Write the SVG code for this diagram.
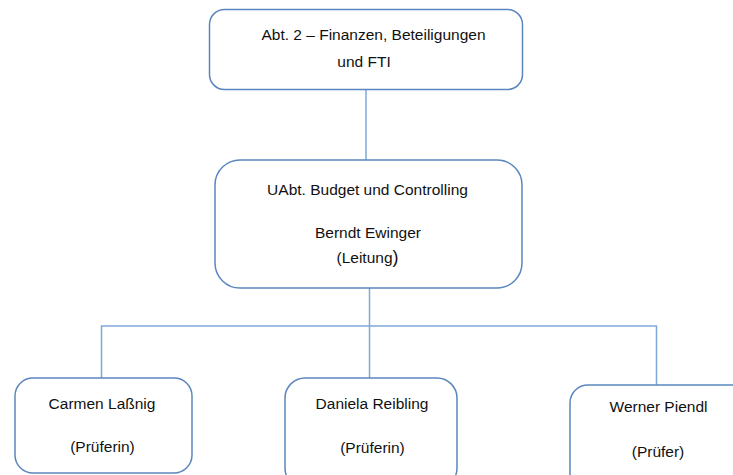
<svg xmlns="http://www.w3.org/2000/svg" width="733" height="475" viewBox="0 0 733 475">
<style>
.box{fill:#fff;stroke:#5a86bd;stroke-width:1.5}
.ln{fill:none;stroke:#7fa9d9;stroke-width:1.5}
text{font-family:"Liberation Sans",Arial,sans-serif;font-size:15.5px;fill:#111;text-anchor:middle}
</style>
<rect width="733" height="475" fill="#fff"/>
<g id="connectors">
<line class="ln" x1="366" y1="90" x2="366" y2="160"/>
<line class="ln" x1="369.5" y1="288" x2="369.5" y2="378"/>
<polyline class="ln" points="101.5,378 101.5,326 656.5,326 656.5,385"/>
</g>
<g id="n-abt">
<rect class="box" x="209.5" y="9.5" width="313" height="80" rx="15"/>
<text x="373.5" y="40">Abt. 2 – Finanzen, Beteiligungen</text>
<text x="364" y="67">und FTI</text>
</g>
<g id="n-uabt">
<rect class="box" x="215" y="160" width="307" height="128" rx="25"/>
<text x="367.5" y="195">UAbt. Budget und Controlling</text>
<text x="368" y="238">Berndt Ewinger</text>
<text x="367.5" y="263">(Leitung<tspan font-size="18">)</tspan></text>
</g>
<g id="n-carmen">
<rect class="box" x="15" y="378" width="177" height="95" rx="18"/>
<text x="102" y="409">Carmen Laßnig</text>
<text x="102.5" y="452">(Prüferin)</text>
</g>
<g id="n-daniela">
<rect class="box" x="285" y="378" width="172" height="110" rx="20"/>
<text x="372" y="409">Daniela Reibling</text>
<text x="372.5" y="453">(Prüferin)</text>
</g>
<g id="n-werner">
<rect class="box" x="570" y="385" width="190" height="110" rx="18"/>
<text x="658.5" y="412">Werner Piendl</text>
<text x="658" y="457">(Prüfer)</text>
</g>
</svg>
